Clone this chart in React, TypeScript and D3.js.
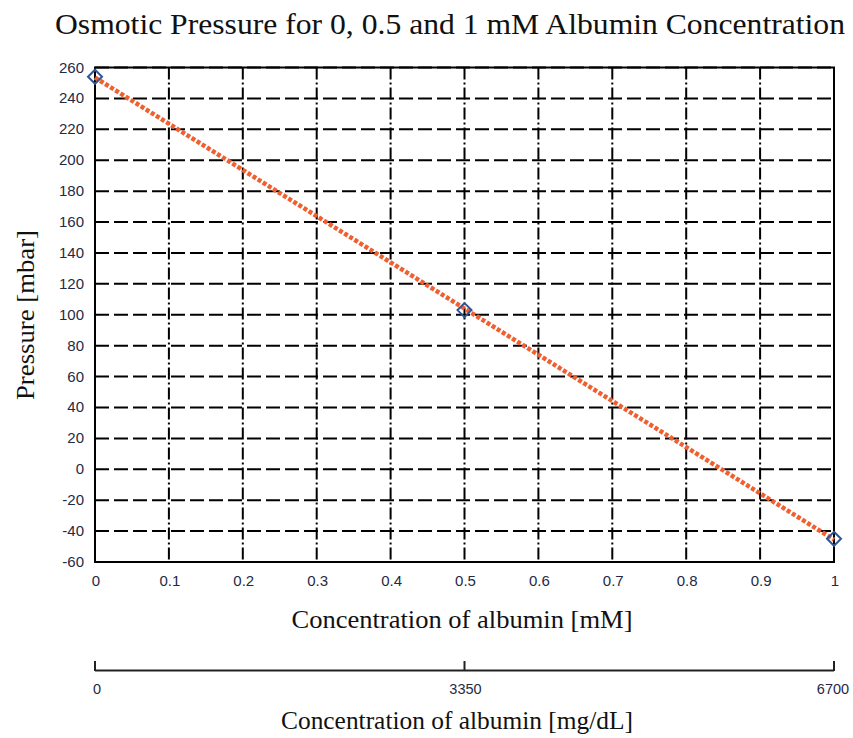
import React from "react";
import * as d3 from "d3";

const concentrationMM = [0, 0.5, 1];
const pressureMbar = [254, 103, -45];
const yTicks = d3.range(-60, 261, 20);
const xTicks = d3.range(0, 1.0001, 0.1).map((v) => Math.round(v * 10) / 10);
const mgTicks = [0, 3350, 6700];

const W = 853;
const H = 738;
const left = 95;
const right = 834;
const top = 67.5;
const bottom = 562;

export default function App() {
  const x = d3.scaleLinear().domain([0, 1]).range([left, right]);
  const y = d3.scaleLinear().domain([-60, 260]).range([bottom, top]);
  const x2 = d3.scaleLinear().domain([0, 6700]).range([left, right]);

  const mx = d3.mean(concentrationMM)!;
  const my = d3.mean(pressureMbar)!;
  const slope =
    d3.sum(concentrationMM.map((c, i) => (c - mx) * (pressureMbar[i] - my))) /
    d3.sum(concentrationMM.map((c) => (c - mx) * (c - mx)));
  const intercept = my - slope * mx;
  const trend = d3
    .line<number>()
    .x((d) => x(d))
    .y((d) => y(intercept + slope * d));

  const sans = "'Liberation Sans', Arial, sans-serif";
  const serif = "'Liberation Serif', 'Times New Roman', serif";
  const tickColor = "#1f2a44";

  const diamond = d3.symbol().type(d3.symbolDiamond2).size(125)();

  return (
    <svg
      width={W}
      height={H}
      style={{ position: "absolute", left: 0, top: 0, background: "#fff" }}
    >
      <text
        x={450}
        y={34}
        textAnchor="middle"
        fontFamily={serif}
        fontSize={30}
        textLength={790}
        lengthAdjust="spacingAndGlyphs"
        fill="#111"
      >
        Osmotic Pressure for 0, 0.5 and 1 mM Albumin Concentration
      </text>

      {/* horizontal gridlines */}
      {yTicks.map((t) => (
        <line
          key={"h" + t}
          x1={left}
          x2={right}
          y1={y(t)}
          y2={y(t)}
          stroke="#000"
          strokeWidth={2}
          strokeDasharray="14,5"
        />
      ))}
      {/* vertical gridlines */}
      {xTicks.map((t) => (
        <line
          key={"v" + t}
          x1={x(t)}
          x2={x(t)}
          y1={top}
          y2={bottom}
          stroke="#000"
          strokeWidth={2}
          strokeDasharray="12,3,2,3"
        />
      ))}
      <rect
        x={left}
        y={top}
        width={right - left}
        height={bottom - top}
        fill="none"
        stroke="#000"
        strokeWidth={2}
      />

      {/* y tick labels */}
      {yTicks.map((t) => (
        <text
          key={"yl" + t}
          x={84}
          y={y(t) + 5}
          textAnchor="end"
          fontFamily={sans}
          fontSize={15}
          fill={tickColor}
        >
          {t}
        </text>
      ))}
      {/* x tick labels */}
      {xTicks.map((t) => (
        <text
          key={"xl" + t}
          x={x(t) + 1}
          y={586}
          textAnchor="middle"
          fontFamily={sans}
          fontSize={15}
          fill={tickColor}
        >
          {t}
        </text>
      ))}

      {/* trendline */}
      <path
        d={trend([0, 1]) || ""}
        fill="none"
        stroke="#f05f30"
        strokeWidth={4.5}
        strokeDasharray="4,2"
      />
      {/* markers */}
      {concentrationMM.map((c, i) => (
        <path
          key={"m" + i}
          d={diamond || ""}
          transform={`translate(${x(c)},${y(pressureMbar[i])})`}
          fill="none"
          stroke="#2f5597"
          strokeWidth={2}
        />
      ))}

      <text
        x={462}
        y={628}
        textAnchor="middle"
        fontFamily={serif}
        fontSize={26}
        textLength={341}
        lengthAdjust="spacingAndGlyphs"
        fill="#111"
      >
        Concentration of albumin [mM]
      </text>
      <text
        transform="translate(34,315) rotate(-90)"
        textAnchor="middle"
        fontFamily={serif}
        fontSize={26}
        textLength={170}
        lengthAdjust="spacingAndGlyphs"
        fill="#111"
      >
        Pressure [mbar]
      </text>

      {/* secondary axis */}
      <line
        x1={x2(0)}
        x2={x2(6700)}
        y1={670.5}
        y2={670.5}
        stroke="#222"
        strokeWidth={2}
      />
      {mgTicks.map((t) => (
        <g key={"mg" + t}>
          <line
            x1={x2(t)}
            x2={x2(t)}
            y1={661}
            y2={671}
            stroke="#222"
            strokeWidth={2}
          />
          <text
            x={x2(t) + (t === 0 ? 2 : t === 6700 ? -1 : 1)}
            y={694}
            textAnchor="middle"
            fontFamily={sans}
            fontSize={14.5}
            fill={tickColor}
          >
            {t}
          </text>
        </g>
      ))}
      <text
        x={457}
        y={729}
        textAnchor="middle"
        fontFamily={serif}
        fontSize={26}
        textLength={352}
        lengthAdjust="spacingAndGlyphs"
        fill="#111"
      >
        Concentration of albumin [mg/dL]
      </text>
    </svg>
  );
}
